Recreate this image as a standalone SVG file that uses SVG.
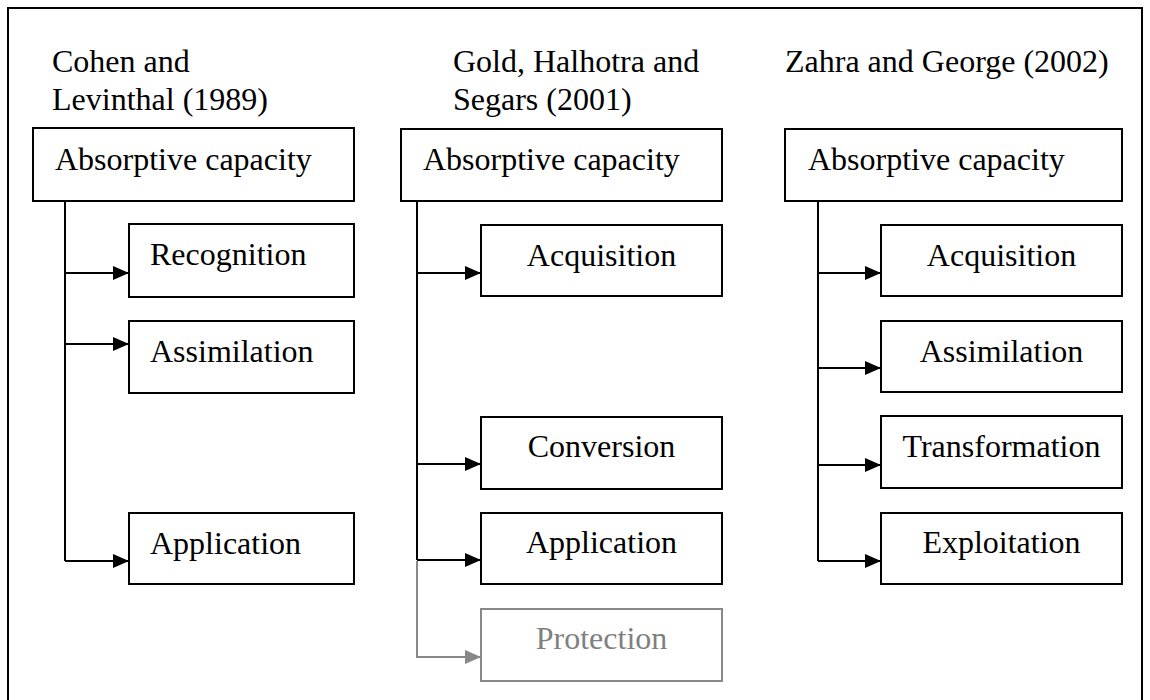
<svg xmlns="http://www.w3.org/2000/svg" width="1150" height="700" viewBox="0 0 1150 700">
<style>
  text { font-family: "Liberation Serif", "Times New Roman", serif; font-size: 32px; fill: #000; }
  .box { fill: #fff; stroke: #000; stroke-width: 2; }
  .gbox { fill: #fff; stroke: #888; stroke-width: 2; }
  .gtext { fill: #808080; }
  .conn { fill: none; stroke: #000; stroke-width: 2; }
  .gconn { fill: none; stroke: #888; stroke-width: 2; }
  .mid { text-anchor: middle; }
</style>
<defs>
  <marker id="arr" markerUnits="userSpaceOnUse" markerWidth="16" markerHeight="14" refX="16" refY="7" orient="auto">
    <path d="M0,0 L16,7 L0,14 z" fill="#000"/>
  </marker>
  <marker id="garr" markerUnits="userSpaceOnUse" markerWidth="16" markerHeight="14" refX="16" refY="7" orient="auto">
    <path d="M0,0 L16,7 L0,14 z" fill="#888"/>
  </marker>
</defs>
<rect width="1150" height="700" fill="#fff"/>
<path d="M8,710 L8,8 L1142,8 L1142,710" fill="none" stroke="#000" stroke-width="2"/>

<g id="titles">
  <text x="52" y="72">Cohen and</text>
  <text x="52" y="110">Levinthal (1989)</text>
  <text x="453" y="72">Gold, Halhotra and</text>
  <text x="453" y="110">Segars (2001)</text>
  <text x="785" y="72">Zahra and George (2002)</text>
</g>

<g id="connectors">
  <path class="conn" d="M65,201 L65,561"/>
  <path class="conn" d="M65,273 L129,273" marker-end="url(#arr)"/>
  <path class="conn" d="M65,344 L129,344" marker-end="url(#arr)"/>
  <path class="conn" d="M65,561 L129,561" marker-end="url(#arr)"/>

  <path class="conn" d="M417,201 L417,560"/>
  <path class="conn" d="M417,273 L481,273" marker-end="url(#arr)"/>
  <path class="conn" d="M417,464 L481,464" marker-end="url(#arr)"/>
  <path class="conn" d="M417,560 L481,560" marker-end="url(#arr)"/>
  <path class="gconn" d="M417,561 L417,657 L481,657" marker-end="url(#garr)"/>

  <path class="conn" d="M818,201 L818,561"/>
  <path class="conn" d="M818,273 L881,273" marker-end="url(#arr)"/>
  <path class="conn" d="M818,368 L881,368" marker-end="url(#arr)"/>
  <path class="conn" d="M818,465 L881,465" marker-end="url(#arr)"/>
  <path class="conn" d="M818,561 L881,561" marker-end="url(#arr)"/>
</g>

<g id="c1-head"><rect class="box" x="33" y="128" width="321" height="73"/><text x="55" y="170">Absorptive capacity</text></g>
<g id="c1-recognition"><rect class="box" x="129" y="224" width="225" height="73"/><text x="150" y="265">Recognition</text></g>
<g id="c1-assimilation"><rect class="box" x="129" y="321" width="225" height="72"/><text x="150" y="362">Assimilation</text></g>
<g id="c1-application"><rect class="box" x="129" y="513" width="225" height="71"/><text x="150" y="554">Application</text></g>

<g id="c2-head"><rect class="box" x="401" y="129" width="321" height="72"/><text x="423" y="170">Absorptive capacity</text></g>
<g id="c2-acquisition"><rect class="box" x="481" y="225" width="241" height="71"/><text class="mid" x="601.5" y="266">Acquisition</text></g>
<g id="c2-conversion"><rect class="box" x="481" y="417" width="241" height="72"/><text class="mid" x="601.5" y="457">Conversion</text></g>
<g id="c2-application"><rect class="box" x="481" y="513" width="241" height="71"/><text class="mid" x="601.5" y="553">Application</text></g>
<g id="c2-protection"><rect class="gbox" x="481" y="609" width="241" height="72"/><text class="mid gtext" x="601.5" y="649">Protection</text></g>

<g id="c3-head"><rect class="box" x="785" y="129" width="337" height="72"/><text x="808" y="170">Absorptive capacity</text></g>
<g id="c3-acquisition"><rect class="box" x="881" y="225" width="241" height="71"/><text class="mid" x="1001.5" y="266">Acquisition</text></g>
<g id="c3-assimilation"><rect class="box" x="881" y="321" width="241" height="71"/><text class="mid" x="1001.5" y="362">Assimilation</text></g>
<g id="c3-transformation"><rect class="box" x="881" y="416" width="241" height="72"/><text class="mid" x="1001.5" y="457">Transformation</text></g>
<g id="c3-exploitation"><rect class="box" x="881" y="513" width="241" height="71"/><text class="mid" x="1001.5" y="553">Exploitation</text></g>
</svg>
